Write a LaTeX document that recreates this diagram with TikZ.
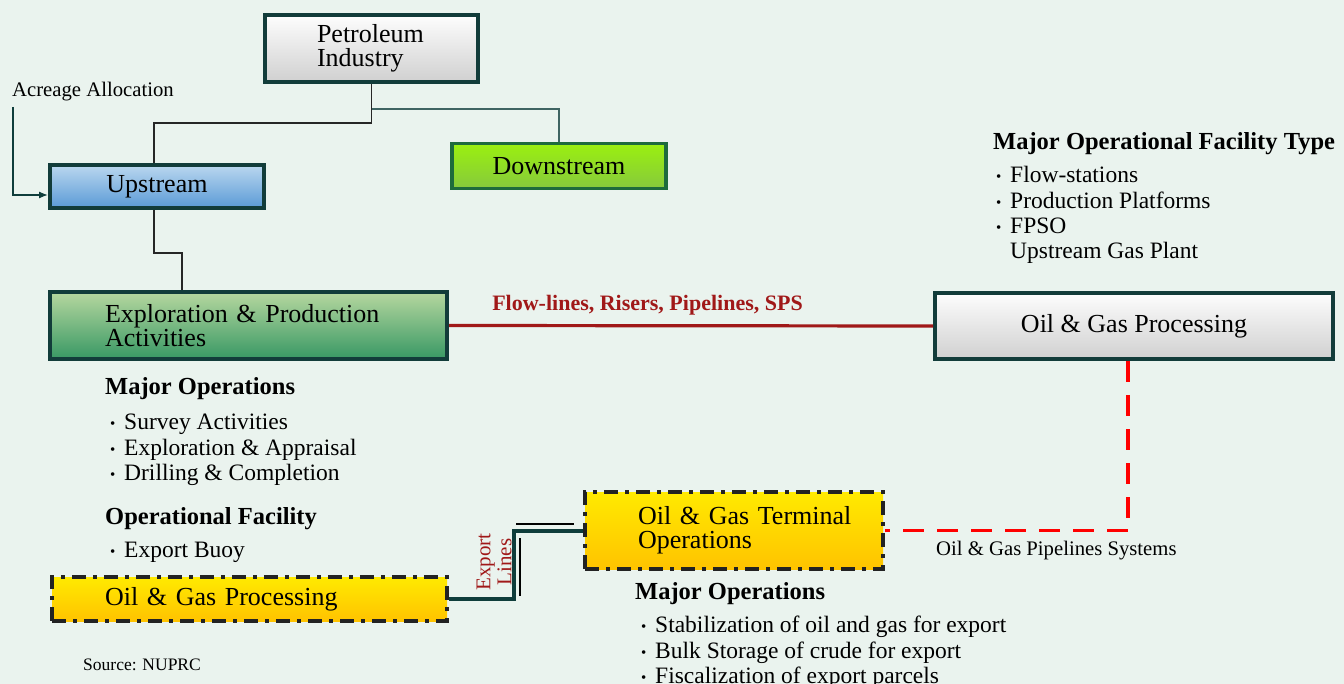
\documentclass[tikz,border=0pt]{standalone}
\usepackage{fontspec}
\setmainfont{Liberation Serif}
\usetikzlibrary{arrows.meta,calc}

\definecolor{bgcol}{HTML}{EAF3EE}
\definecolor{frame}{HTML}{123C3A}
\definecolor{greyhi}{HTML}{FDFDFD}
\definecolor{greylo}{HTML}{D0D0D0}
\definecolor{limehi}{HTML}{9BF010}
\definecolor{limelo}{HTML}{86C93C}
\definecolor{limeframe}{HTML}{1E6B3C}
\definecolor{bluehi}{HTML}{BAD7EF}
\definecolor{bluelo}{HTML}{5A9AD6}
\definecolor{leafhi}{HTML}{B6D79F}
\definecolor{leaflo}{HTML}{389864}
\definecolor{goldhi}{HTML}{FFEA00}
\definecolor{goldlo}{HTML}{FFC300}
\definecolor{dashframe}{HTML}{222222}
\definecolor{darkred}{HTML}{A01818}
\definecolor{pipered}{HTML}{FF0000}
\definecolor{tealline}{HTML}{0F3D3B}

% bullet with a strut so every list line has the same height
\newcommand{\bul}{\strut\makebox[14pt][l]{\raisebox{1pt}{\fontsize{15}{15}\selectfont\textbullet}}}

\tikzset{
  box/.style={draw=frame, line width=4pt, rectangle, inner sep=0pt,
    font=\fontsize{26}{24}\selectfont},
  greybox/.style={box, top color=greyhi, bottom color=greylo},
  limebox/.style={box, draw=limeframe, line width=3.5pt, top color=limehi, bottom color=limelo},
  bluebox/.style={box, shading=axis, shading angle=160, top color=bluehi, bottom color=bluelo},
  leafbox/.style={box, shading=axis, shading angle=170, top color=leafhi, bottom color=leaflo},
  goldbox/.style={box, draw=dashframe, top color=goldhi, bottom color=goldlo,
    dash pattern=on 14pt off 7pt on 4pt off 7pt},
  tree/.style={draw=black!85, line width=1.4pt},
  treeteal/.style={draw=tealline!80, line width=1.4pt},
  flow/.style={draw=darkred, line width=3.2pt},
  pipe/.style={draw=pipered, line width=3.5pt, dash pattern=on 21pt off 13pt},
  export/.style={draw=tealline, line width=4pt},
  heading/.style={anchor=base west, inner sep=0pt, font=\fontsize{24.5}{25}\selectfont\bfseries},
  listing/.style={anchor=north west, inner sep=0pt, align=left, font=\fontsize{23.5}{25.3}\selectfont},
  note/.style={anchor=base west, inner sep=0pt, font=\fontsize{20.7}{22}\selectfont},
}

\begin{document}
\begin{tikzpicture}[x=1pt, y=-1pt]
\fill[bgcol] (0,0) rectangle (1344,684);
\useasboundingbox (0,0) rectangle (1344,684);

% main boxes
\node[greybox, minimum width=213pt, minimum height=67pt, text width=109pt, align=left]
  (petro) at (371.5,48.5) {Petroleum\\Industry};
\node[limebox, minimum width=214pt, minimum height=45pt] (down) at (559,166) {Downstream};
\node[bluebox, minimum width=214pt, minimum height=43pt] (up) at (157,186.5) {Upstream};
\node[leafbox, minimum width=397pt, minimum height=67pt, text width=287pt, align=left]
  (ep) at (248.5,325.5) {\mbox{Exploration \& Production}\\Activities};
\node[greybox, minimum width=398pt, minimum height=66pt] (proc) at (1134,326) {Oil \& Gas Processing};
\node[goldbox, minimum width=298pt, minimum height=77pt, text width=192pt, align=left]
  (term) at (734,530.5) {\mbox{Oil \& Gas Terminal}\\Operations};
\node[goldbox, minimum width=395pt, minimum height=44pt, text width=289pt, align=left]
  (bproc) at (249.5,599) {\mbox{Oil \& Gas Processing}};

% hierarchy links
\coordinate (split) at (371.5,109);
\draw[tree] (petro.south) -- (371.5,123) -| ([xshift=-3pt]up.north);
\draw[treeteal] (split) -| (down.north);
\draw[tree] ([xshift=-3pt]up.south) |- (182,253) -- (182,0 |- ep.north);

% acreage allocation
\node[note] (acreage) at (12,96.5) {Acreage Allocation};
\coordinate (acrstart) at (13,107);
\draw[draw=tealline, line width=1.3pt, -{Latex[length=9pt,width=7pt]}]
  (acrstart) |- ($(up.west)+(0,8.5)$);

% flow lines
\draw[flow] (ep.east) -- (proc.west);
\node[anchor=base, inner sep=0pt, text=darkred, font=\fontsize{22}{24}\selectfont\bfseries]
  (flowlbl) at (647.5,311) {Flow-lines, Risers, Pipelines, SPS};

% pipeline system
\draw[pipe] (1128,0 |- proc.south) |- (term.east);
\node[note] (pipelbl) at (936,555) {Oil \& Gas Pipelines Systems};

% export lines
\draw[export] (bproc.east) -- (514,0 |- bproc.east) |- (term.west);
\draw[line width=1.5pt] (516,524) -- (574,524);
\draw[line width=1.5pt] (520,538) -- (520,596);
\node[rotate=90, align=center, inner sep=0pt, text=darkred, font=\fontsize{21}{21}\selectfont]
  (exportlbl) at (494,562) {Export\\Lines};

% left annotations
\node[heading] (mo1) at (105,395) {Major Operations};
\node[listing] (mo1list) at (110,411.8) {\bul Survey Activities\\ \bul Exploration \& Appraisal\\ \bul Drilling \& Completion};
\node[heading] (of) at (105,524) {Operational Facility};
\node[listing] (oflist) at (110,539.8) {\bul Export Buoy};

% right annotations
\node[heading] (moft) at (993,150) {Major Operational Facility Type};
\node[listing] (moftlist) at (996,164.8) {\bul Flow-stations\\ \bul Production Platforms\\ \bul FPSO\\ \strut\hspace*{14pt}Upstream Gas Plant};

% terminal annotations
\node[heading] (mo2) at (635,599) {Major Operations};
\node[listing] (mo2list) at (641,614.8) {\bul Stabilization of oil and gas for export\\ \bul Bulk Storage of crude for export\\ \bul Fiscalization of export parcels};

\node[anchor=base west, inner sep=0pt, font=\fontsize{17.5}{18}\selectfont] (src) at (83,670) {Source: NUPRC};
\end{tikzpicture}
\end{document}
